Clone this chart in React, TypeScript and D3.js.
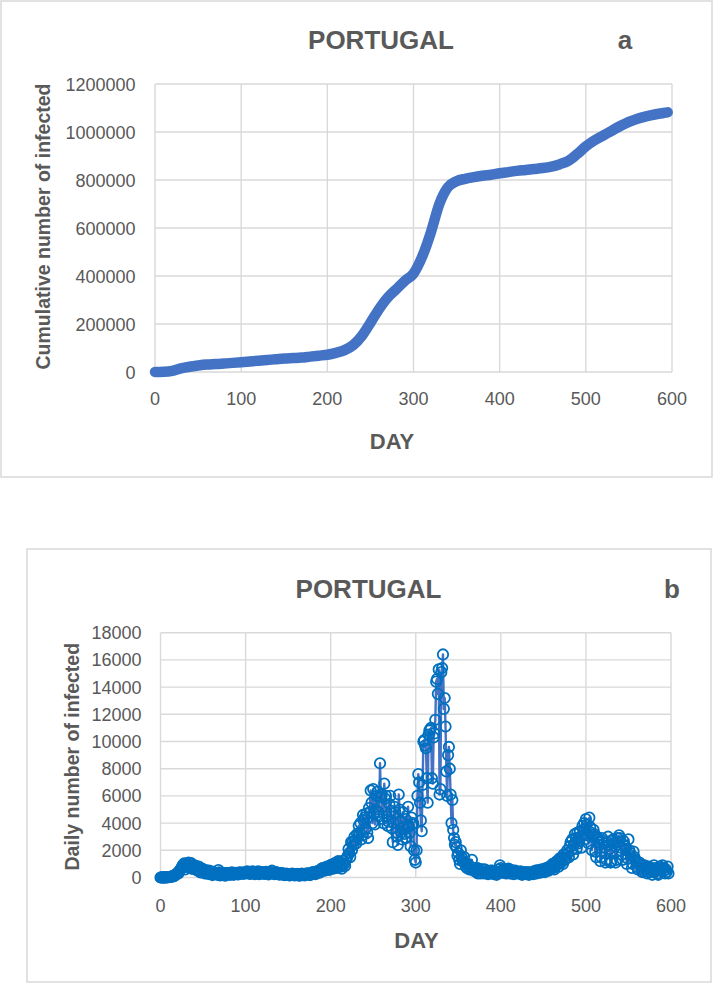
import React from "react";
import * as d3 from "d3";

// ---- Data ----
const cumDays = [0,10,20,30,40,50,60,70,80,90,100,110,120,130,140,150,160,170,180,190,200,210,220,230,240,250,260,270,280,290,300,310,320,330,340,350,360,370,380,390,400,410,420,430,440,450,460,470,480,490,500,510,520,530,540,550,560,570,580,590,595];
const cumValues = [0,1000,5000,15000,22000,27000,31000,33000,35000,38000,41000,44000,47000,50000,53000,56000,58000,60000,64000,68000,72000,80000,91000,112000,150000,205000,262000,310000,345000,380000,410000,480000,580000,700000,770000,795000,805000,812000,818000,822000,828000,833000,838000,842000,846000,850000,856000,866000,880000,908000,940000,965000,985000,1005000,1025000,1042000,1055000,1065000,1073000,1079000,1082000];

// Daily number of infected, one value per day starting at day 0
const dailyFirstDay = 0;
const dailyValues = [
  0,2,2,5,4,9,8,10,20,19,
  34,37,48,77,91,86,117,143,235,260,
  320,302,460,549,633,724,902,792,1035,600,
  810,1000,980,1100,700,850,1050,640,700,900,
  750,870,600,520,700,800,490,380,600,650,
  520,480,300,550,400,350,270,500,310,460,
  240,180,420,300,250,300,280,200,550,380,
  160,250,230,300,350,280,130,200,300,330,
  300,250,200,350,380,310,200,270,320,340,
  330,230,250,380,360,330,350,270,330,400,
  300,350,450,380,320,260,300,400,450,360,
  300,250,380,420,330,450,250,300,350,380,
  390,300,270,350,420,400,380,230,320,370,
  380,500,340,300,240,330,400,350,280,250,
  210,300,320,330,250,190,180,200,280,250,
  220,170,150,200,260,290,240,180,150,220,
  250,260,210,130,160,200,280,240,230,160,
  180,250,300,280,260,200,180,320,350,400,
  380,300,250,400,450,470,400,350,500,620,
  680,700,620,500,700,780,800,650,560,850,
  900,950,780,650,1000,1050,900,700,820,1200,
  1100,950,800,650,1000,1250,1000,850,1300,1400,
  1600,2100,1800,1500,2600,2000,2600,2400,3000,2700,
  2500,3200,3000,3800,3300,4000,2800,3100,4600,4200,
  4400,3600,4700,3300,2900,5100,4800,6400,5500,4000,
  6500,4700,3900,5000,6000,6300,4800,4500,8400,5900,
  6100,4300,4000,6900,5800,6000,4500,3800,4100,5400,
  6000,4900,3600,2600,4000,5200,4800,3300,3000,2400,
  6100,5000,4100,3300,2800,4800,3700,3200,4300,2900,
  3700,5200,3800,3300,2300,4400,3900,4000,2000,1300,
  1100,2000,6000,7600,7000,5500,4200,3400,6800,10000,
  10100,9700,9500,7300,5500,10500,10800,10900,11000,7300,
  6900,10300,10600,11600,14400,14600,13500,15300,6100,6500,
  15100,15400,16400,12400,13200,11100,7800,6000,9000,9600,
  8000,6100,4000,5700,3500,2900,2400,2600,2200,1600,
  1800,1300,1000,2000,1500,1200,1200,1500,1000,800,
  700,1000,900,600,800,700,1300,600,500,700,
  600,400,700,300,650,500,300,450,600,400,
  300,600,400,350,450,250,300,350,500,400,
  500,300,250,400,350,200,400,300,600,900,
  700,500,350,400,600,500,300,400,550,650,
  500,300,450,550,400,250,350,500,400,300,
  400,350,300,450,250,200,300,350,400,300,
  250,300,400,200,250,350,300,400,250,450,
  350,500,300,400,550,450,350,500,600,400,
  500,600,400,700,550,650,500,800,600,700,
  900,1000,700,600,1100,900,1200,1000,800,1400,
  1300,1100,1500,1000,1700,1300,1600,1400,2000,1800,
  1500,2300,2600,2000,2800,1700,2400,3200,2900,2100,
  3300,2500,2700,3400,3000,2200,3800,3500,4000,2800,
  4300,3900,3100,2500,4400,3700,3300,2000,3000,3500,
  3200,1900,1500,3000,2800,2600,2400,1200,1500,2900,
  2700,2500,2200,1100,1300,2600,3000,2400,2100,1100,
  1200,2700,2800,2500,2300,1100,1300,2900,2600,3100,
  2900,2200,1700,1300,2700,2400,2300,2100,1000,1400,
  2800,2000,1800,1600,700,1000,1900,1500,1300,1200,
  800,600,1000,1100,900,700,400,500,800,900,
  700,600,300,400,800,700,600,500,200,400,
  900,700,600,500,300,200,500,800,700,600,
  900,700,500,300,600,400,800,300
];

const xTicks = [0,100,200,300,400,500,600];
const cumTicks = [0,200000,400000,600000,800000,1000000,1200000];
const dailyTicks = [0,2000,4000,6000,8000,10000,12000,14000,16000,18000];

const TITLE = "PORTUGAL";
const GRAY = "#595959";
const GRID = "#d9d9d9";
const FONT = "'Liberation Sans', Arial, sans-serif";

export default function App() {
  // Panel a
  const xA = d3.scaleLinear().domain([0, 600]).range([155, 672]);
  const yA = d3.scaleLinear().domain([0, 1200000]).range([372, 84]);
  const lineA = d3.line<number>().x((_, i) => xA(cumDays[i])).y((d) => yA(d)).curve(d3.curveMonotoneX);

  // Panel b
  const xB = d3.scaleLinear().domain([0, 600]).range([160.5, 671]);
  const yB = d3.scaleLinear().domain([0, 18000]).range([877.5, 632.7]);
  const lineB = d3.line<number>().x((_, i) => xB(dailyFirstDay + i)).y((d) => yB(d));

  return (
    <svg width={714} height={985} style={{ position: "absolute", left: 0, top: 0, background: "#fff" }} fontFamily={FONT}>
      <rect x={0} y={0} width={714} height={985} fill="#fff" />
      {/* Panel a frame */}
      <rect x={1} y={1} width={711} height={476} fill="#fff" stroke={GRID} strokeWidth={1.5} />
      {cumTicks.map((t) => (
        <line key={"ha" + t} x1={xA(0)} x2={xA(600)} y1={yA(t)} y2={yA(t)} stroke={GRID} strokeWidth={1.4} />
      ))}
      {xTicks.map((t) => (
        <line key={"va" + t} x1={xA(t)} x2={xA(t)} y1={yA(0)} y2={yA(1200000)} stroke={GRID} strokeWidth={1.4} />
      ))}
      {cumTicks.map((t) => (
        <text key={"la" + t} x={135.5} y={yA(t) + 6.5} textAnchor="end" fontSize={18} fill={GRAY}>{t}</text>
      ))}
      {xTicks.map((t) => (
        <text key={"lxa" + t} x={xA(t)} y={405} textAnchor="middle" fontSize={18} fill={GRAY}>{t}</text>
      ))}
      <path d={lineA(cumValues) || ""} fill="none" stroke="#4472C4" strokeWidth={10.5} strokeLinecap="round" strokeLinejoin="round" />
      <text x={381} y={49} textAnchor="middle" fontSize={26} fontWeight="bold" fill={GRAY}>{TITLE}</text>
      <text x={625} y={49} textAnchor="middle" fontSize={26} fontWeight="bold" fill={GRAY}>a</text>
      <text x={392} y={449} textAnchor="middle" fontSize={22} fontWeight="bold" fill={GRAY}>DAY</text>
      <text transform={`translate(49.5,226.5) rotate(-90)`} textAnchor="middle" fontSize={19.5} fontWeight="bold" fill={GRAY}>Cumulative number of infected</text>

      {/* Panel b frame */}
      <rect x={27} y={549} width={684} height={433} fill="#fff" stroke={GRID} strokeWidth={1.5} />
      {dailyTicks.map((t) => (
        <line key={"hb" + t} x1={xB(0)} x2={xB(600)} y1={yB(t)} y2={yB(t)} stroke={GRID} strokeWidth={1.4} />
      ))}
      {xTicks.map((t) => (
        <line key={"vb" + t} x1={xB(t)} x2={xB(t)} y1={yB(0)} y2={yB(18000)} stroke={GRID} strokeWidth={1.4} />
      ))}
      {dailyTicks.map((t) => (
        <text key={"lb" + t} x={141.5} y={yB(t) + 6.5} textAnchor="end" fontSize={18} fill={GRAY}>{t}</text>
      ))}
      {xTicks.map((t) => (
        <text key={"lxb" + t} x={xB(t)} y={912} textAnchor="middle" fontSize={18} fill={GRAY}>{t}</text>
      ))}
      <path d={lineB(dailyValues) || ""} fill="none" stroke="#4472C4" strokeWidth={2.4} strokeLinejoin="round" />
      {dailyValues.map((v, i) => (
        <circle key={"m" + i} cx={xB(dailyFirstDay + i)} cy={yB(v)} r={5.2} fill="none" stroke="#0070C0" strokeWidth={1.8} />
      ))}
      <text x={368.5} y={598} textAnchor="middle" fontSize={26} fontWeight="bold" fill={GRAY}>{TITLE}</text>
      <text x={672} y={598} textAnchor="middle" fontSize={26} fontWeight="bold" fill={GRAY}>b</text>
      <text x={416.5} y={948} textAnchor="middle" fontSize={22} fontWeight="bold" fill={GRAY}>DAY</text>
      <text transform={`translate(78.5,756.7) rotate(-90)`} textAnchor="middle" fontSize={19.5} fontWeight="bold" fill={GRAY}>Daily number of infected</text>
    </svg>
  );
}
